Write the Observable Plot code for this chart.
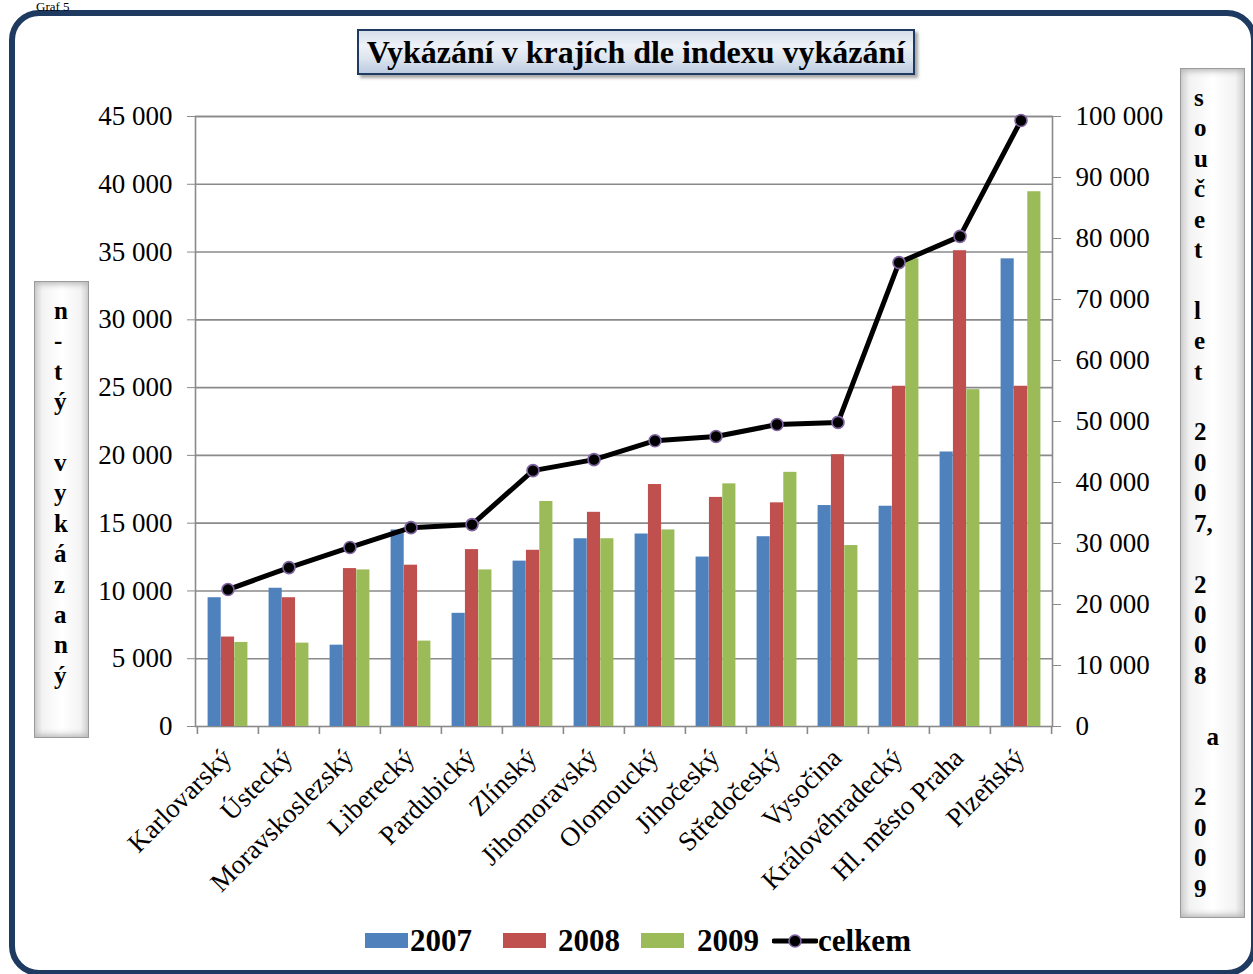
<!DOCTYPE html>
<html><head><meta charset="utf-8">
<script src="https://cdn.jsdelivr.net/npm/d3@7"></script>
<script src="https://cdn.jsdelivr.net/npm/@observablehq/plot@0.6"></script>
<style>
html,body{margin:0;padding:0;background:#fff;}
#wrap{position:relative;width:1253px;height:974px;overflow:hidden;font-family:"Liberation Serif","Times New Roman",serif;color:#000;}
#chart{position:absolute;left:0;top:0;}
#frame{position:absolute;left:9px;top:10px;width:1236px;height:954px;border:6px solid #1F3A60;border-radius:30px;}
#graf{position:absolute;left:36px;top:0px;font-size:13px;line-height:13px;white-space:nowrap;}
#title{position:absolute;left:357px;top:29px;width:554px;height:42px;border:2px solid #1F3A60;
  background:linear-gradient(to bottom,#d5deea 0%,#eef2f8 35%,#dde5ef 65%,#bccbe0 100%);
  box-shadow:3px 3px 3px rgba(0,0,0,0.35);text-align:center;font-weight:bold;font-size:32px;line-height:42px;white-space:nowrap;}
.vbox{position:absolute;border:1px solid #9a9a9a;box-sizing:border-box;
  background:linear-gradient(to right,#cfcfcf 0%,#f3f3f3 14%,#ffffff 50%,#f3f3f3 86%,#cfcfcf 100%);
  box-shadow:inset 0 7px 6px -5px #b5b5b5, inset 0 -7px 6px -5px #b5b5b5;
  font-weight:bold;font-size:25px;line-height:30.4px;white-space:pre;}
#lbox{left:34px;top:281px;width:55px;height:457px;padding:14px 0 0 19px;}
#rbox{left:1180px;top:68px;width:65px;height:850px;padding:14px 0 0 13px;}
.leg{position:absolute;font-weight:bold;font-size:31px;line-height:31px;white-space:nowrap;}
.sw{position:absolute;height:15px;width:43px;top:933px;}
</style></head>
<body><div id="wrap">
<div id="chart"></div>
<div id="frame"></div>
<div id="graf"></div>
<div id="title"></div>
<div id="lbox" class="vbox"></div>
<div id="rbox" class="vbox"></div>
<div id="legend"></div>
</div>
<script>
// ---- data ----
const regions = ["Karlovarský","Ústecký","Moravskoslezský","Liberecký","Pardubický","Zlínský","Jihomoravský","Olomoucký","Jihočeský","Středočeský","Vysočina","Královéhradecký","Hl. město Praha","Plzeňský"];
const v2007 = [9500,10200,6000,14500,8350,12200,13850,14200,12500,14000,16300,16250,20250,34500];
const v2008 = [6600,9500,11650,11900,13050,13000,15800,17850,16900,16500,20050,25100,35100,25100];
const v2009 = [6200,6150,11550,6300,11550,16600,13850,14500,17900,18750,13350,34500,24850,39450];
const celkem = [22450,26050,29350,32600,33100,41950,43750,46850,47550,49500,49850,76050,80350,99350];
const leftTicks = [0,5000,10000,15000,20000,25000,30000,35000,40000,45000];
const rightTicks = [0,10000,20000,30000,40000,50000,60000,70000,80000,90000,100000];
const seriesNames = ["2007","2008","2009","celkem"];
const seriesColors = ["#4F81BD","#C0504D","#9BBB59","#000000"];
const titleText = "Vykázání v krajích dle indexu vykázání";
const leftLabel = ["n","-","t","ý","","v","y","k","á","z","a","n","ý"];
const rightLabel = ["s","o","u","č","e","t","","l","e","t","","2","0","0","7,","","2","0","0","8","","\u00a0\u00a0a","","2","0","0","9"];
const grafText = "Graf 5";

// ---- layout ----
const W = 1253, H = 974, ML = 195, MR = 201, MT = 116, MB = 248;
const yMax = 45000, rMax = 100000, RATIO = yMax / rMax;
const step = (W - ML - MR) / regions.length;
const bw = step * 0.218;
const off = (step - 3 * bw) / 2;
const tickData = 8 * yMax / (H - MT - MB);
const fmt = d => d3.format(",")(d).replace(/,/g, "\u00a0");
const gray = "#8a8a8a";

const rows = regions.map((r, i) => ({region: r, v2007: v2007[i], v2008: v2008[i], v2009: v2009[i], total: celkem[i]}));
const bar = (key, k) => Plot.barY(rows, {
  x: "region", y: key, fill: seriesColors[k],
  insetLeft: off + k * bw, insetRight: step - off - (k + 1) * bw
});

const chart = Plot.plot({
  width: W, height: H,
  marginLeft: ML, marginRight: MR, marginTop: MT, marginBottom: MB,
  style: {fontFamily: "Liberation Serif, serif", fontSize: "27px", color: "#000", background: "transparent", overflow: "visible"},
  x: {type: "band", domain: regions, padding: 0, axis: null},
  y: {domain: [0, yMax]},
  marks: [
    Plot.ruleY(leftTicks.filter(v => v > 0), {y: d => d, stroke: gray, strokeWidth: 1.6}),
    Plot.frame({stroke: gray, strokeWidth: 1.6}),
    Plot.axisY({anchor: "left", ticks: leftTicks, tickFormat: fmt, tickSize: 8, tickPadding: 15, fontSize: 27, stroke: gray, fill: "#000", label: null}),
    Plot.axisY({anchor: "right", ticks: rightTicks.map(v => v * RATIO), tickFormat: d => fmt(Math.round(d / RATIO)), tickSize: 8, tickPadding: 15, fontSize: 27, stroke: gray, fill: "#000", label: null}),
    Plot.ruleX(regions, {x: d => d, dx: -step / 2, y1: () => 0, y2: () => -tickData, stroke: gray, strokeWidth: 1.6}),
    Plot.ruleX([regions[regions.length - 1]], {x: d => d, dx: step / 2, y1: () => 0, y2: () => -tickData, stroke: gray, strokeWidth: 1.6}),
    bar("v2007", 0), bar("v2008", 1), bar("v2009", 2),
    Plot.line(rows, {x: "region", y: d => d.total * RATIO, stroke: "#000", strokeWidth: 5}),
    Plot.dot(rows, {x: "region", y: d => d.total * RATIO, r: 6, fill: "#000", stroke: "#8064A2", strokeWidth: 1.6}),
    Plot.text(regions, {x: d => d, frameAnchor: "bottom", text: d => d, rotate: -45, textAnchor: "end", dx: 5, dy: 33, fontSize: 27})
  ]
});
document.getElementById("chart").appendChild(chart);

// ---- overlays ----
document.getElementById("graf").textContent = grafText;
document.getElementById("title").textContent = titleText;
document.getElementById("lbox").textContent = leftLabel.join("\n");
document.getElementById("rbox").textContent = rightLabel.join("\n");

const legend = document.getElementById("legend");
const swX = [365, 503, 641], txX = [410, 558, 697];
for (let k = 0; k < 3; k++) {
  const s = document.createElement("div");
  s.className = "sw"; s.style.left = swX[k] + "px"; s.style.background = seriesColors[k];
  legend.appendChild(s);
  const t = document.createElement("div");
  t.className = "leg"; t.style.left = txX[k] + "px"; t.style.top = "925px"; t.textContent = seriesNames[k];
  legend.appendChild(t);
}
const ns = "http://www.w3.org/2000/svg";
const ls = document.createElementNS(ns, "svg");
ls.setAttribute("width", 46); ls.setAttribute("height", 20);
ls.style.position = "absolute"; ls.style.left = "772px"; ls.style.top = "931px";
ls.innerHTML = '<line x1="2" y1="10" x2="44" y2="10" stroke="#000" stroke-width="5" stroke-linecap="round"/><circle cx="23" cy="10" r="6" fill="#000" stroke="#8064A2" stroke-width="1.6"/>';
legend.appendChild(ls);
const ct = document.createElement("div");
ct.className = "leg"; ct.style.left = "818px"; ct.style.top = "925px"; ct.textContent = seriesNames[3];
legend.appendChild(ct);
</script>
</body></html>
